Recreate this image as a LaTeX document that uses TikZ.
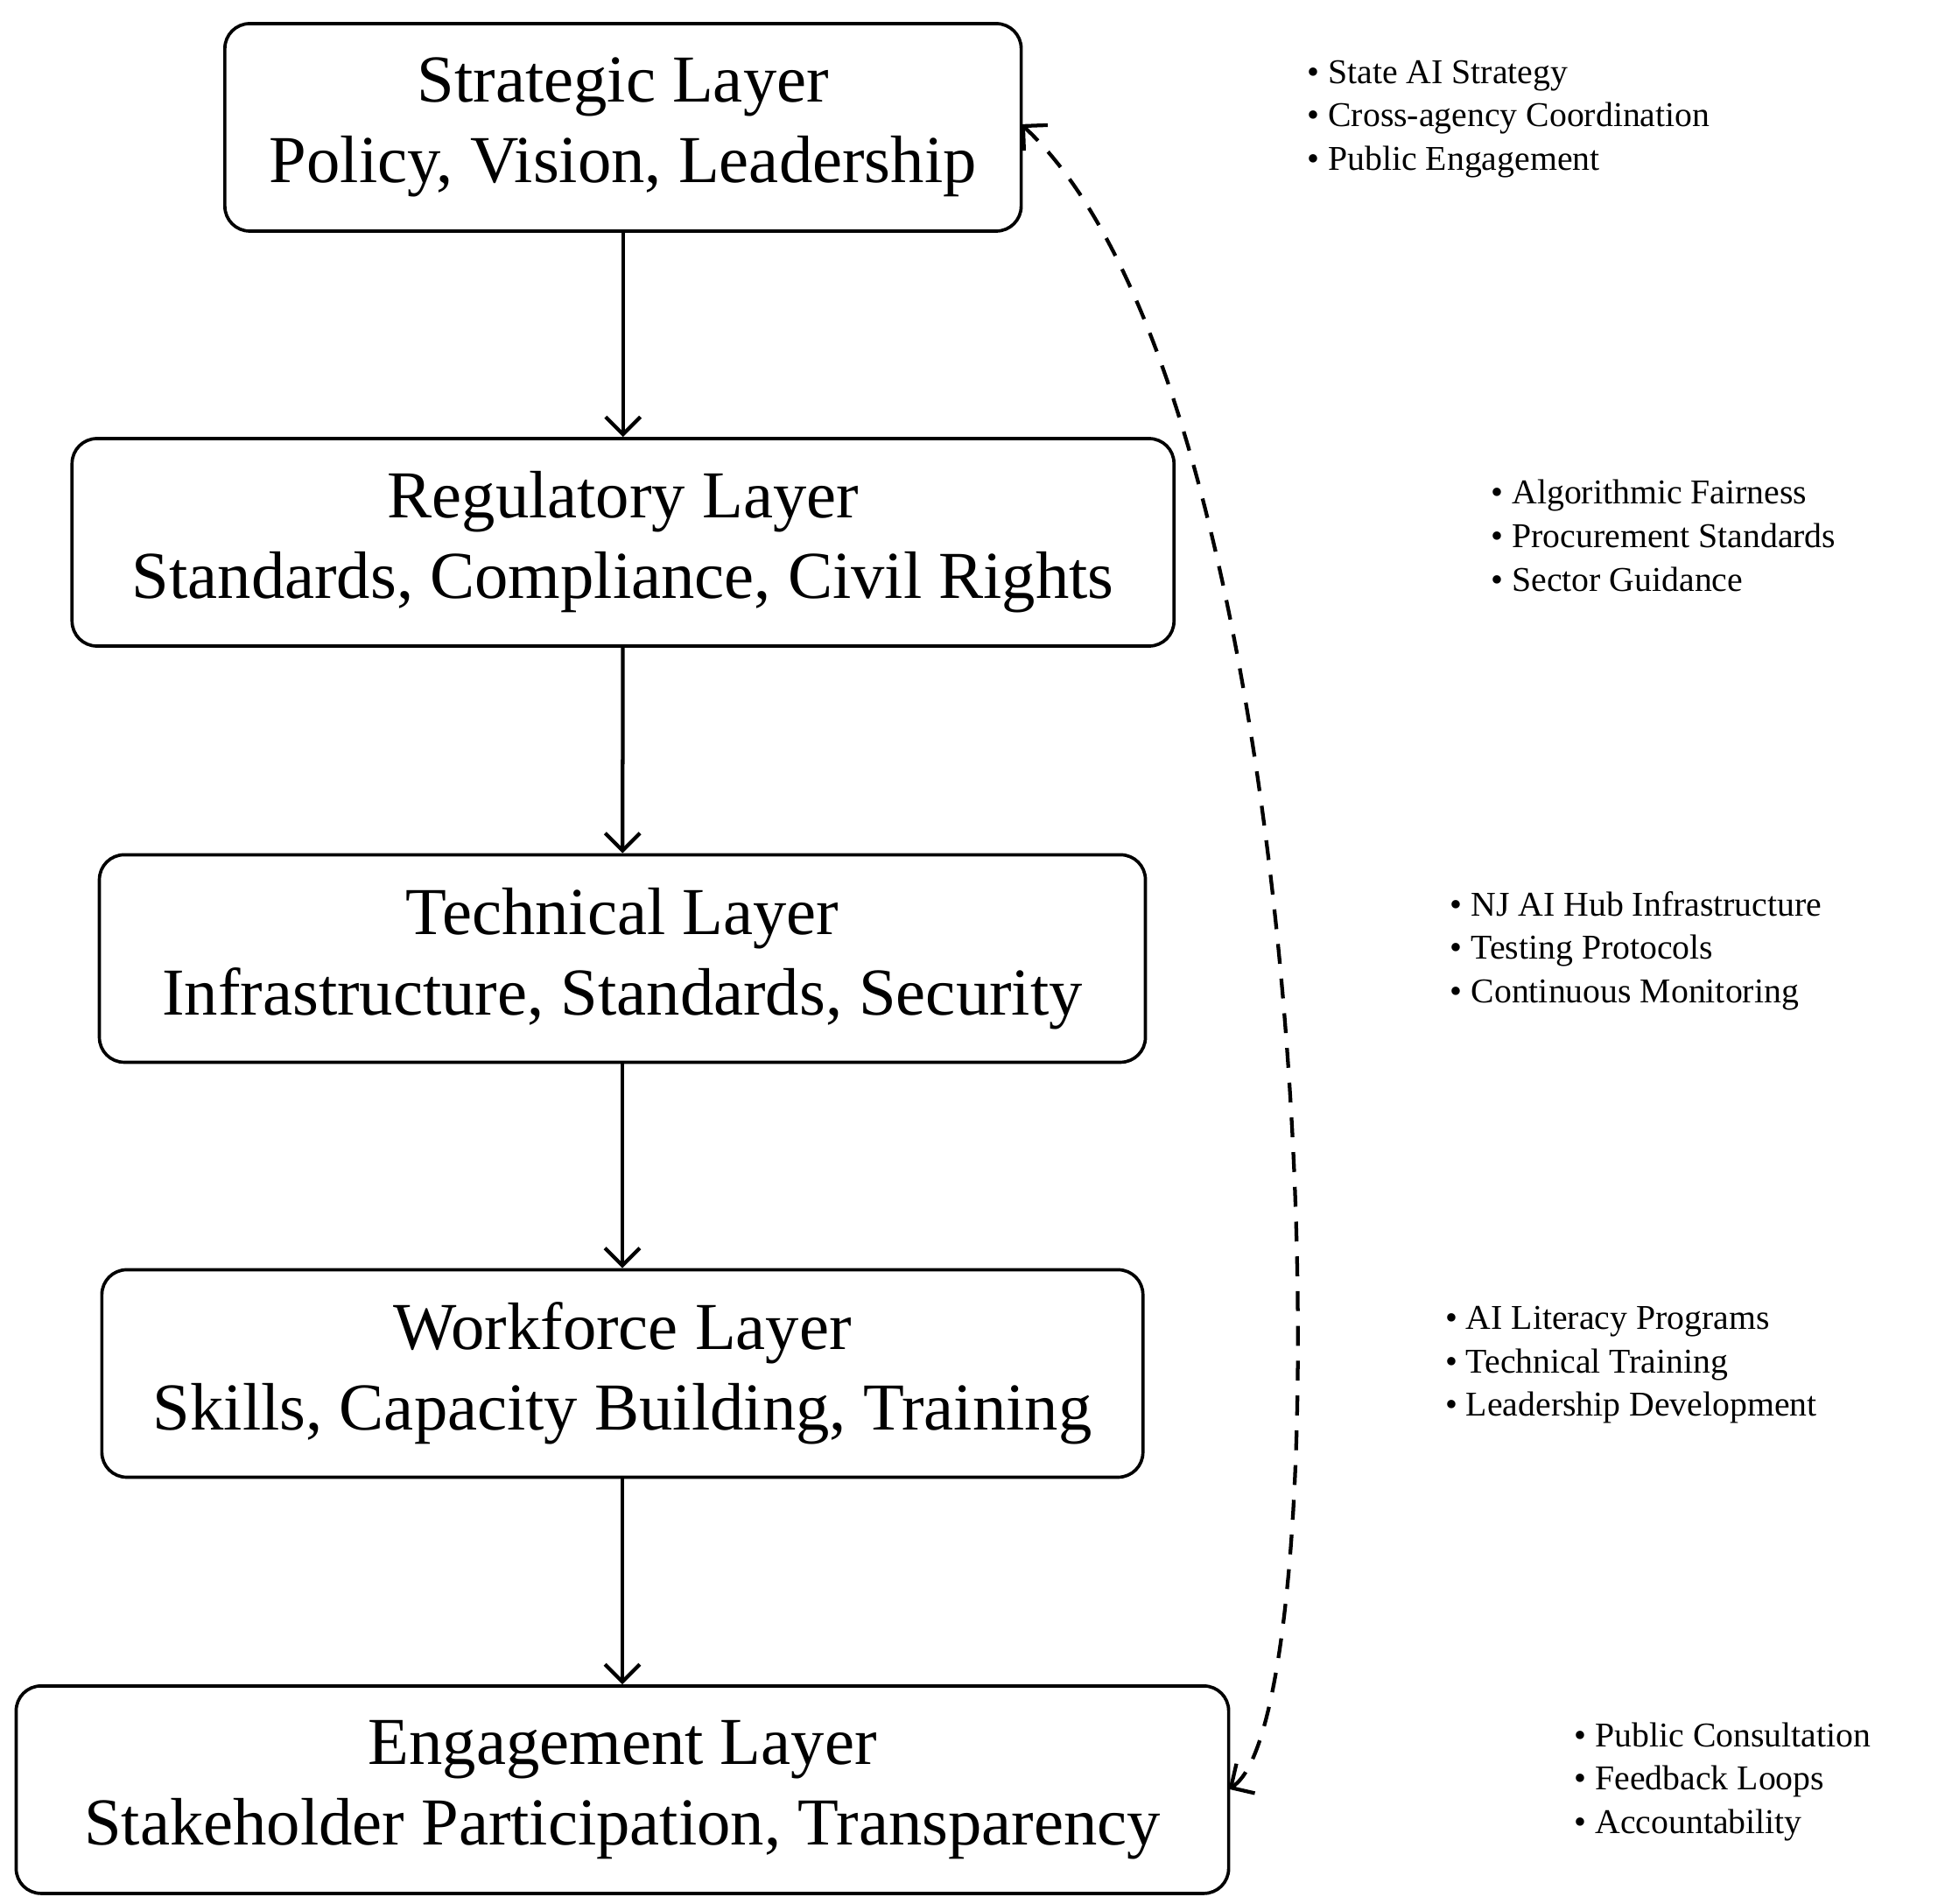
\documentclass[tikz,border=0pt]{standalone}
\usepackage{fontspec}
\setmainfont{Liberation Serif}
\usetikzlibrary{arrows.meta}
\begin{document}
\begin{tikzpicture}[x=0.5pt,y=-0.5pt,
  layer/.style={draw,line width=1.3pt,rounded corners=10pt,align=center,inner sep=0pt,minimum height=83.5pt,font=\fontsize{27}{32.5}\selectfont},
  flow/.style={line width=1.5pt,-{Straight Barb[length=7pt,width=14pt]}},
  list/.style={anchor=north west,align=left,inner sep=0pt,font=\fontsize{14}{17.5}\selectfont}]
\useasboundingbox (0,0) rectangle (1560,1532);
\node[layer,minimum width=320.5pt] (s) at (501.5,102.5) {Strategic Layer\\Policy, Vision, Leadership};
\node[layer,minimum width=443.5pt] (r) at (501.5,436.5) {Regulatory Layer\\Standards, Compliance, Civil Rights};
\node[layer,minimum width=421pt] (t) at (501,771.5) {Technical Layer\\Infrastructure, Standards, Security};
\node[layer,minimum width=419pt] (w) at (501,1105.5) {Workforce Layer\\Skills, Capacity Building, Training};
\node[layer,minimum width=488pt] (e) at (501,1440.5) {Engagement Layer\\Stakeholder Participation, Transparency};
\draw[flow] (s) -- (r);
\draw[flow] (r) -- (t);
\draw[flow] (t) -- (w);
\draw[flow] (w) -- (e);
\coordinate (ea) at (989,1440);
\coordinate (sa) at (822,100);
\draw[line width=1.5pt,dash pattern=on 8pt off 6pt,{Straight Barb[length=7pt,width=14pt]}-{Straight Barb[length=7pt,width=14pt]}] (ea) .. controls (1085,1380) and (1070,330) .. (sa);
\node[list] (l1) at (1052,48) {\textbullet\ State AI Strategy\\\textbullet\ Cross-agency Coordination\\\textbullet\ Public Engagement};
\node[list] (l2) at (1200,386) {\textbullet\ Algorithmic Fairness\\\textbullet\ Procurement Standards\\\textbullet\ Sector Guidance};
\node[list] (l3) at (1167,717) {\textbullet\ NJ AI Hub Infrastructure\\\textbullet\ Testing Protocols\\\textbullet\ Continuous Monitoring};
\node[list] (l4) at (1163,1051) {\textbullet\ AI Literacy Programs\\\textbullet\ Technical Training\\\textbullet\ Leadership Development};
\node[list] (l5) at (1267,1386) {\textbullet\ Public Consultation\\\textbullet\ Feedback Loops\\\textbullet\ Accountability};
\end{tikzpicture}
\end{document}
